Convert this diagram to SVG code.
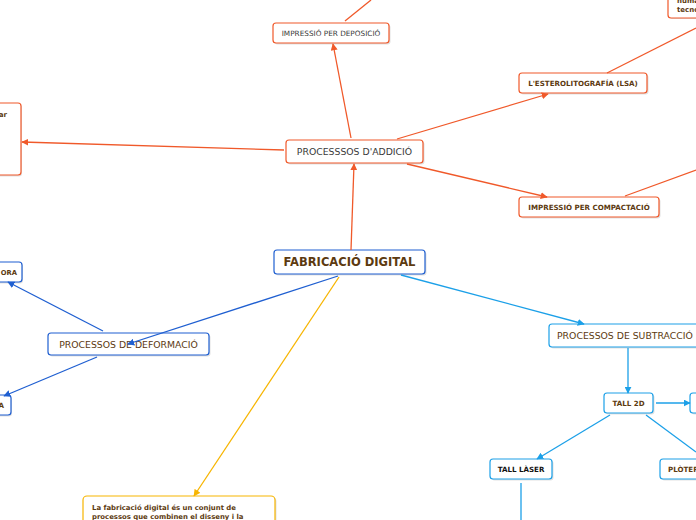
<svg xmlns="http://www.w3.org/2000/svg" width="696" height="520" viewBox="0 0 696 520">
<defs>
<style>
.t{font-family:"DejaVu Sans","Verdana",sans-serif;}
.or{fill:#fff;stroke:#f0592a;stroke-width:1.2}
.db{fill:#fff;stroke:#1f5fd1;stroke-width:1.2}
.lb{fill:#fff;stroke:#1ca0e8;stroke-width:1.2}
.yl{fill:#fff;stroke:#f7b500;stroke-width:1.2}
.sh{fill:#000;opacity:0.12}
.reg{fill:#3a3a3a}
.brn{fill:#5c3a10}
.blk{fill:#111}
.b{font-weight:bold}
.co{stroke:#f0592a;stroke-width:1.3;fill:none}
.cd{stroke:#1f5fd1;stroke-width:1.3;fill:none}
.cl{stroke:#1ca0e8;stroke-width:1.3;fill:none}
.cy{stroke:#f7b500;stroke-width:1.3;fill:none}
</style>
<marker id="ao" viewBox="0 0 10 10" refX="9" refY="5" markerWidth="7" markerHeight="7" orient="auto" markerUnits="userSpaceOnUse"><path d="M0,0 L10,5 L0,10 z" fill="#f0592a"/></marker>
<marker id="ad" viewBox="0 0 10 10" refX="9" refY="5" markerWidth="7" markerHeight="7" orient="auto" markerUnits="userSpaceOnUse"><path d="M0,0 L10,5 L0,10 z" fill="#1f5fd1"/></marker>
<marker id="al" viewBox="0 0 10 10" refX="9" refY="5" markerWidth="7" markerHeight="7" orient="auto" markerUnits="userSpaceOnUse"><path d="M0,0 L10,5 L0,10 z" fill="#1ca0e8"/></marker>
<marker id="ay" viewBox="0 0 10 10" refX="9" refY="5" markerWidth="7" markerHeight="7" orient="auto" markerUnits="userSpaceOnUse"><path d="M0,0 L10,5 L0,10 z" fill="#f7b500"/></marker>
</defs>
<rect width="696" height="520" fill="#fff"/>
<g id="n-deposicio">
<rect class="sh" x="274.5" y="24.5" width="116" height="20" rx="3"/>
<rect class="or" x="273" y="23" width="116" height="20" rx="3"/>
<text class="t reg" x="331" y="35.8" font-size="7.3" text-anchor="middle">IMPRESSIÓ PER DEPOSICIÓ</text>
</g>
<g id="n-topright">
<rect class="sh" x="669.5" y="-9" width="40" height="28" rx="3"/>
<rect class="or" x="668" y="-10" width="40" height="28" rx="3"/>
<text class="t brn b" x="677" y="3" font-size="7">humans i</text>
<text class="t brn b" x="677" y="11.5" font-size="7">tecnologia</text>
</g>
<g id="n-lsa">
<rect class="sh" x="520.5" y="74.5" width="128" height="20" rx="3"/>
<rect class="or" x="519" y="73" width="128" height="20" rx="3"/>
<text class="t brn b" x="583" y="85.8" font-size="7.1" text-anchor="middle">L'ESTEROLITOGRAFÍA (LSA)</text>
</g>
<g id="n-left">
<rect class="sh" x="-19" y="104.5" width="41" height="72" rx="3"/>
<rect class="or" x="-20" y="103" width="41" height="72" rx="3"/>
<text class="t brn b" x="7" y="117" font-size="7.1" text-anchor="end">ar</text>
</g>
<g id="n-addicio">
<rect class="sh" x="287.5" y="141.5" width="137" height="23" rx="3"/>
<rect class="or" x="286" y="140" width="137" height="23" rx="3"/>
<text class="t reg" x="354.5" y="155.3" font-size="9.3" text-anchor="middle">PROCESSSOS D'ADDICIÓ</text>
</g>
<g id="n-compactacio">
<rect class="sh" x="520.5" y="198.5" width="140" height="20" rx="3"/>
<rect class="or" x="519" y="197" width="140" height="20" rx="3"/>
<text class="t brn b" x="589" y="209.8" font-size="7.1" text-anchor="middle">IMPRESSIÓ PER COMPACTACIÓ</text>
</g>
<g id="n-fabricacio">
<rect class="sh" x="275.5" y="251.5" width="151" height="24" rx="3"/>
<rect class="db" x="274" y="250" width="151" height="24" rx="3"/>
<text class="t brn b" x="349.5" y="266" font-size="11.5" text-anchor="middle">FABRICACIÓ DIGITAL</text>
</g>
<g id="n-ora">
<rect class="sh" x="-19" y="263.5" width="42" height="20" rx="3"/>
<rect class="db" x="-20" y="262" width="42" height="20" rx="3"/>
<text class="t brn b" x="17" y="274.8" font-size="6.8" text-anchor="end">ORA</text>
</g>
<g id="n-deformacio">
<rect class="sh" x="49.5" y="334.5" width="161" height="22" rx="3"/>
<rect class="db" x="48" y="333" width="161" height="22" rx="3"/>
<text class="t brn" x="128.5" y="347.8" font-size="9.3" text-anchor="middle">PROCESSOS DE DEFORMACIÓ</text>
</g>
<g id="n-a">
<rect class="sh" x="-19" y="396.5" width="31" height="20" rx="3"/>
<rect class="db" x="-20" y="395" width="31" height="20" rx="3"/>
<text class="t brn b" x="4" y="407.8" font-size="7.1" text-anchor="end">A</text>
</g>
<g id="n-subtraccio">
<rect class="sh" x="550.5" y="325.5" width="170" height="23" rx="3"/>
<rect class="lb" x="549" y="324" width="170" height="23" rx="3"/>
<text class="t brn" x="557" y="339.3" font-size="9.3">PROCESSOS DE SUBTRACCIÓ</text>
</g>
<g id="n-tall2d">
<rect class="sh" x="605.5" y="394.5" width="49" height="20" rx="3"/>
<rect class="lb" x="604" y="393" width="49" height="20" rx="3"/>
<text class="t brn b" x="628.5" y="405.8" font-size="7.1" text-anchor="middle">TALL 2D</text>
</g>
<g id="n-right">
<rect class="sh" x="691.5" y="394.5" width="30" height="20" rx="3"/>
<rect class="lb" x="690" y="393" width="30" height="20" rx="3"/>
</g>
<g id="n-laser">
<rect class="sh" x="491.5" y="460.5" width="62" height="20" rx="3"/>
<rect class="lb" x="490" y="459" width="62" height="20" rx="3"/>
<text class="t blk b" x="521" y="471.8" font-size="7.1" text-anchor="middle">TALL LÀSER</text>
</g>
<g id="n-ploter">
<rect class="sh" x="661.5" y="460.5" width="60" height="20" rx="3"/>
<rect class="lb" x="660" y="459" width="60" height="20" rx="3"/>
<text class="t brn b" x="668" y="471.8" font-size="7.1">PLÒTER</text>
</g>
<g id="n-text">
<rect class="sh" x="84.5" y="497.5" width="192" height="40" rx="4"/>
<rect class="yl" x="83" y="496" width="192" height="40" rx="4"/>
<text class="t brn b" x="92" y="509.5" font-size="6.9">La fabricació digital és un conjunt de</text>
<text class="t brn b" x="92" y="518.5" font-size="6.9">processos que combinen el disseny i la</text>
</g>
<g id="connectors">
<line class="co" x1="351" y1="250" x2="354" y2="164" marker-end="url(#ao)"/>
<line class="co" x1="351" y1="138" x2="333" y2="44" marker-end="url(#ao)"/>
<line class="co" x1="397" y1="139" x2="548" y2="94" marker-end="url(#ao)"/>
<line class="co" x1="407" y1="164" x2="547" y2="197" marker-end="url(#ao)"/>
<line class="co" x1="284" y1="150" x2="22" y2="142" marker-end="url(#ao)"/>
<line class="co" x1="345" y1="21" x2="371" y2="0"/>
<line class="co" x1="607" y1="73" x2="696" y2="28"/>
<line class="co" x1="625" y1="196" x2="696" y2="170"/>
<line class="cd" x1="338" y1="276" x2="128" y2="344" marker-end="url(#ad)"/>
<line class="cd" x1="103" y1="331" x2="8" y2="282" marker-end="url(#ad)"/>
<line class="cd" x1="97" y1="357" x2="4" y2="396" marker-end="url(#ad)"/>
<line class="cl" x1="401" y1="275" x2="584" y2="324" marker-end="url(#al)"/>
<line class="cl" x1="628" y1="348" x2="628" y2="393" marker-end="url(#al)"/>
<line class="cl" x1="656" y1="403" x2="690" y2="403" marker-end="url(#al)"/>
<line class="cl" x1="610" y1="415" x2="537" y2="459" marker-end="url(#al)"/>
<line class="cl" x1="646" y1="415" x2="696" y2="452"/>
<line class="cl" x1="521" y1="483" x2="521" y2="520"/>
<line class="cy" x1="339" y1="277" x2="194" y2="496" marker-end="url(#ay)"/>
</g>
</svg>
